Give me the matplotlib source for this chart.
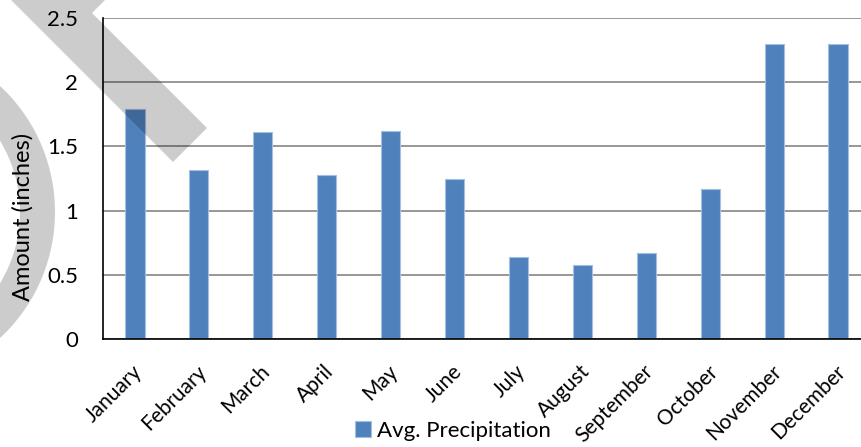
import matplotlib
matplotlib.use("Agg")
import matplotlib.pyplot as plt
from matplotlib.patches import Polygon, Wedge
from matplotlib.transforms import Affine2D, ScaledTranslation

plt.rcParams['font.family'] = ['Lato', 'DejaVu Sans']

months = ['January', 'February', 'March', 'April', 'May', 'June',
          'July', 'August', 'September', 'October', 'November', 'December']
precip = [1.79, 1.32, 1.61, 1.28, 1.62, 1.25, 0.64, 0.58, 0.67, 1.17, 2.30, 2.30]
y_ticks = [0, 0.5, 1, 1.5, 2, 2.5]
y_tick_labels = ['0', '0.5', '1', '1.5', '2', '2.5']

W, H = 861, 447
fig = plt.figure(figsize=(W / 100, H / 100), dpi=100)
ax = fig.add_axes([103 / W, (H - 339) / H, 767 / W, 321 / H])

x = range(len(months))
ax.bar(x, precip, width=0.3, color='#4F81BD', edgecolor='#A5BFE0',
       linewidth=0.8, label='Avg. Precipitation', zorder=3)

ax.set_xlim(-0.5, len(months) - 0.5)
ax.set_ylim(0, 2.5)
ax.set_yticks(y_ticks)
ax.set_yticklabels(y_tick_labels)
ax.set_xticks(list(x))
ax.set_xticklabels(months, rotation=45, ha='right', va='top',
                   rotation_mode='anchor')
ax.tick_params(axis='y', length=0, labelsize=16, colors='black', pad=18)
ax.tick_params(axis='x', length=0, labelsize=15, colors='black', pad=16)
# nudge month names a little to the left
shift = ScaledTranslation(-3 / 100, 0, fig.dpi_scale_trans)
for lbl in ax.get_xticklabels():
    lbl.set_transform(lbl.get_transform() + shift)

ax.grid(axis='y', color='#858585', linewidth=1.2, zorder=0)
ax.set_axisbelow(True)
for side in ('top', 'right'):
    ax.spines[side].set_visible(False)
for side in ('left', 'bottom'):
    ax.spines[side].set_color('black')
    ax.spines[side].set_linewidth(1.2)
    ax.spines[side].set_zorder(4)

fig.text(23 / W, (H - 217) / H, 'Amount (inches)', rotation=90,
         ha='center', va='center', fontsize=17)

fig.legend(loc='center', bbox_to_anchor=(453 / W, (H - 431) / H),
           frameon=False, fontsize=16, handlelength=0.7, handleheight=0.7,
           handletextpad=0.3, borderaxespad=0)

# translucent watermark shapes, laid out in pixel coordinates (origin top-left)
px = Affine2D().scale(1, -1).translate(0, H)
band = Polygon([(-1, -12), (173, 162), (207, 128), (92, 13), (117, -12)],
               closed=True, facecolor='black', alpha=0.2, edgecolor='none',
               transform=px, zorder=10)
ring = Wedge((-117, 212), 172, -90, 90, width=35, facecolor='black',
             alpha=0.2, edgecolor='none', transform=px, zorder=10)
fig.patches.extend([band, ring])

fig.savefig('out.png', dpi=100)
